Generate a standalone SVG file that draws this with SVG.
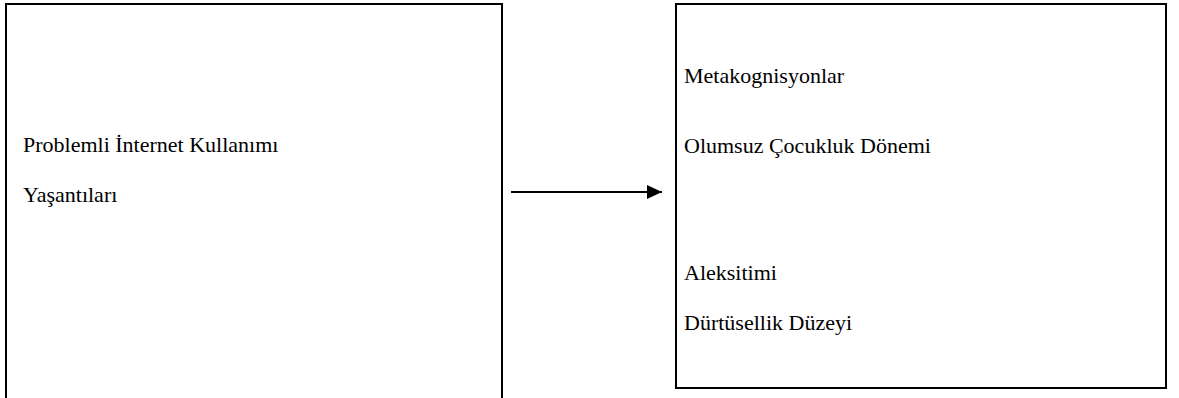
<svg xmlns="http://www.w3.org/2000/svg" width="1179" height="398" viewBox="0 0 1179 398">
  <style>
    .box { fill: #ffffff; stroke: #000000; stroke-width: 2; }
    .label { font-family: "Liberation Serif", "Times New Roman", serif; font-size: 22px; fill: #000000; }
    .edge { stroke: #000000; stroke-width: 2; fill: none; }
  </style>
  <defs>
    <marker id="arrowhead" markerWidth="16" markerHeight="14" refX="15" refY="7" orient="auto" markerUnits="userSpaceOnUse">
      <path d="M0,0 L15,7 L0,14 Z" fill="#000000"/>
    </marker>
  </defs>
  <rect width="1179" height="398" fill="#ffffff"/>

  <g id="node-problemli-internet">
    <rect class="box" x="6" y="4" width="496" height="400"/>
    <text class="label" x="23" y="152">Problemli İnternet Kullanımı</text>
    <text class="label" x="23" y="202">Yaşantıları</text>
  </g>

  <g id="node-factors">
    <rect class="box" x="676" y="4" width="490" height="384"/>
    <text class="label" x="684" y="83">Metakognisyonlar</text>
    <text class="label" x="684" y="153">Olumsuz Çocukluk Dönemi</text>
    <text class="label" x="684" y="280">Aleksitimi</text>
    <text class="label" x="684" y="330">Dürtüsellik Düzeyi</text>
  </g>

  <g id="connectors">
    <line class="edge" x1="511" y1="192" x2="662" y2="192" marker-end="url(#arrowhead)"/>
  </g>
</svg>
